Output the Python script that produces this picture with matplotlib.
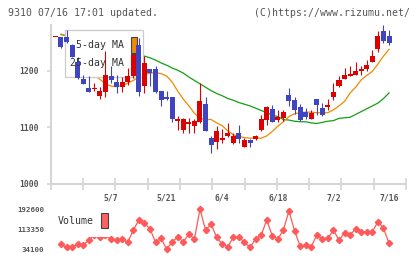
import numpy as np
import matplotlib
matplotlib.use("Agg")
import matplotlib.pyplot as plt
from matplotlib.patches import Rectangle
from matplotlib.transforms import blended_transform_factory

W, H = 420, 259
nan = np.nan

# daily prices (index 0 .. 60)
opens = [1260, 1259, 1260, 1246, 1216, 1185, 1169, 1168, 1155, 1163, 1191, 1180, 1171, 1180, 1190,
         1246, 1174, 1203, 1203, 1165, 1154, 1153, 1112, 1096, 1106, 1103, 1110, 1142, 1081, 1075,
         1078, 1084, 1073, 1090, 1066, 1078, 1079, 1096, 1113, 1132, 1113, 1117, 1157, 1149, 1136,
         1127, 1115, 1150, 1134, 1136, 1154, 1174, 1186, 1191, 1193, 1200, 1203, 1216, 1239, 1271, 1261]
highs = [1260, 1260, 1273, 1247, 1225, 1193, 1190, 1179, 1171, 1235, 1208, 1193, 1189, 1205, 1230,
         1258, 1226, 1204, 1208, 1165, 1165, 1154, 1121, 1117, 1116, 1114, 1178, 1153, 1085, 1103,
         1097, 1107, 1091, 1104, 1082, 1079, 1087, 1122, 1137, 1139, 1130, 1131, 1169, 1153, 1141,
         1134, 1130, 1151, 1143, 1150, 1178, 1190, 1205, 1208, 1215, 1209, 1219, 1237, 1270, 1281, 1273]
lows = [1260, 1241, 1250, 1224, 1186, 1176, 1162, 1164, 1151, 1154, 1179, 1161, 1162, 1175, 1188,
        1155, 1160, 1173, 1161, 1138, 1149, 1109, 1096, 1090, 1090, 1091, 1108, 1094, 1055, 1062,
        1073, 1083, 1071, 1073, 1065, 1066, 1078, 1094, 1104, 1109, 1110, 1112, 1138, 1124, 1112,
        1114, 1114, 1122, 1121, 1131, 1149, 1172, 1185, 1190, 1192, 1193, 1200, 1215, 1234, 1250, 1246]
closes = [1260, 1243, 1251, 1225, 1187, 1177, 1163, 1170, 1165, 1193, 1184, 1171, 1180, 1191, 1228,
          1162, 1213, 1196, 1163, 1149, 1151, 1115, 1115, 1114, 1110, 1111, 1147, 1094, 1069, 1093,
          1082, 1091, 1084, 1080, 1078, 1072, 1085, 1115, 1136, 1110, 1118, 1128, 1147, 1130, 1113,
          1119, 1125, 1140, 1122, 1140, 1163, 1184, 1192, 1195, 1200, 1203, 1210, 1226, 1262, 1252, 1249]

ma5 = [nan, 1265, 1262, 1252, 1238, 1222, 1205, 1192, 1185, 1177, 1173, 1172, 1174, 1178, 1183,
       1189, 1193, 1196, 1197, 1195, 1191, 1180, 1164, 1150, 1138, 1125, 1116, 1114, 1114, 1108,
       1103, 1094, 1087, 1084, 1082, 1081, 1081, 1081, 1085, 1093, 1102, 1110, 1119, 1124, 1126,
       1127, 1127, 1126, 1126, 1126, 1131, 1138, 1146, 1161, 1171, 1184, 1192, 1199, 1212, 1226, 1238]
ma25 = [nan, 1264, 1262, 1260, 1257, 1254, 1251, 1248, 1245, 1243, 1240, 1238, 1236, 1234, 1231,
        1229, 1226, 1223, 1219, 1214, 1210, 1205, 1201, 1196, 1189, 1183, 1177, 1171, 1165, 1160,
        1156, 1151, 1148, 1144, 1141, 1138, 1134, 1130, 1126, 1122, 1119, 1114, 1113, 1111, 1110,
        1110, 1108, 1107, 1109, 1111, 1112, 1116, 1117, 1118, 1123, 1128, 1133, 1138, 1143, 1151, 1161]

volume = [nan, 52700, 40800, 40800, 55100, 48800, 69800, 90000, 80500, 90000, 73000, 69800, 73700,
          60700, 108200, 149000, 135900, 114500, 60700, 76500, 32900, 63000, 80500, 63000, 92400,
          73700, 192600, 109400, 132000, 80500, 52700, 43200, 80500, 80500, 60700, 40800, 73700,
          89600, 147800, 86800, 73700, 109400, 184700, 106600, 46000, 48800, 43200, 89600, 73700,
          76500, 108200, 69800, 98700, 89600, 114500, 102600, 100300, 102600, 142300, 116100, 56700]

date_idx = [10, 20, 30, 40, 50, 60]
date_labels = ["5/7", "5/21", "6/4", "6/18", "7/2", "7/16"]
price_ticks = [1000, 1100, 1200]
vol_ticks = [34100, 113350, 192600]

UP = "#dd0000"
DOWN = "#3f45c0"
GRID = "#d4d4d4"
TXT = "#555555"
MONO = "DejaVu Sans Mono"


def fx(x):
    return x / W


def fy(y):
    return 1 - y / H


fig = plt.figure(figsize=(W / 100, H / 100), dpi=100)
ax = fig.add_axes([fx(50.7), fy(184), (406 - 50.7) / W, (184 - 25) / H])
vax = fig.add_axes([fx(50.7), fy(253), (406 - 50.7) / W, 48 / H], sharex=ax)

o = np.array(opens, float)
c = np.array(closes, float)
x = np.arange(len(o))
up = c >= o
colors = np.where(up, UP, DOWN)

# moving averages under the legend box
ax.plot(x, ma25, color="#12a012", lw=0.9, zorder=1)
ax.plot(x, ma5, color="#f08a00", lw=0.9, zorder=1)

# candles
ax.vlines(x, lows, highs, colors=colors, lw=0.8, zorder=3)
body = np.maximum(np.abs(c - o), 1.6)
ax.bar(x, body, bottom=np.minimum(o, c), width=0.9, color=colors, lw=0, zorder=3)

ax.set_xlim(-0.85, 63.05)
ax.set_ylim(1000, 1281)
for s in ["top", "right"]:
    ax.spines[s].set_visible(False)
for s in ["left", "bottom"]:
    ax.spines[s].set_color(GRID)
    ax.spines[s].set_linewidth(1.4)
ax.set_xticks(np.linspace(-0.85, 63.05, 12))
ax.tick_params(axis="x", direction="inout", length=8, width=1.2, color=GRID, labelbottom=False)
ax.set_yticks(price_ticks)
ax.set_yticklabels([str(v) for v in price_ticks])
ax.tick_params(axis="y", length=3, width=1.2, color=GRID, pad=5.5, labelsize=5.8, labelcolor=TXT)
for t in ax.get_yticklabels():
    t.set_family(MONO)
    t.set_weight("bold")

tr = blended_transform_factory(ax.transData, ax.transAxes)
for i, lab in zip(date_idx, date_labels):
    ax.text(i, -0.088, lab, transform=tr, ha="center", va="center", fontsize=5.8,
            family=MONO, weight="bold", color=TXT, clip_on=False)

# legend box for the moving averages
ax.add_patch(Rectangle((fx(65), fy(77.3)), 78.3 / W, 47.3 / H, transform=fig.transFigure,
                       facecolor="white", edgecolor="#cccccc", lw=0.9, zorder=2, clip_on=False))
ax.add_patch(Rectangle((fx(131.3), fy(52.5)), 5.8 / W, 15.5 / H, transform=fig.transFigure,
                       facecolor="#f08a00", edgecolor="#444444", lw=0.8, zorder=2.5, clip_on=False))
ax.add_patch(Rectangle((fx(131.3), fy(69.5)), 5.8 / W, 16 / H, transform=fig.transFigure,
                       facecolor="#12a012", edgecolor="#444444", lw=0.8, zorder=2.5, clip_on=False))
ax.text(fx(76), fy(45.5), "5-day MA", transform=fig.transFigure, fontsize=7.1, family=MONO,
        color="#333333", va="center", ha="left", zorder=4)
ax.text(fx(70), fy(63), "25-day MA", transform=fig.transFigure, fontsize=7.1, family=MONO,
        color="#333333", va="center", ha="left", zorder=4)

# volume panel
vax.plot(x, volume, color="#ff5a5a", lw=0.9, marker="D", markersize=3.2, zorder=2)
vax.set_ylim(34100 - 4 * 3962.5, 192600 + 4 * 3962.5)
for s in vax.spines.values():
    s.set_visible(False)
vax.tick_params(axis="x", length=0, labelbottom=False)
vax.set_yticks(vol_ticks)
vax.set_yticklabels([str(v) for v in vol_ticks])
vax.tick_params(axis="y", length=0, pad=4.8, labelsize=5.3, labelcolor=TXT)
for t in vax.get_yticklabels():
    t.set_family(MONO)
    t.set_weight("bold")
vax.add_patch(Rectangle((fx(55), fy(236.5)), 55 / W, 30 / H, transform=fig.transFigure,
                        facecolor="white", edgecolor="none", zorder=3, clip_on=False))
vax.add_patch(Rectangle((fx(101), fy(228.3)), 6.7 / W, 15 / H, transform=fig.transFigure,
                        facecolor="#ff6060", edgecolor="#444444", lw=0.8, zorder=4, clip_on=False))
vax.text(fx(58), fy(221.5), "Volume", transform=fig.transFigure, fontsize=7.1, family=MONO,
         color="#333333", va="center", ha="left", zorder=4)

fig.text(fx(8), fy(12.5), "9310 07/16 17:01 updated.", fontsize=7.1, family=MONO,
         color=TXT, va="center", ha="left")
fig.text(fx(410), fy(12.5), "(C)https://www.rizumu.net/", fontsize=7.1, family=MONO,
         color=TXT, va="center", ha="right")

fig.savefig("out.png", dpi=100, facecolor="white")
